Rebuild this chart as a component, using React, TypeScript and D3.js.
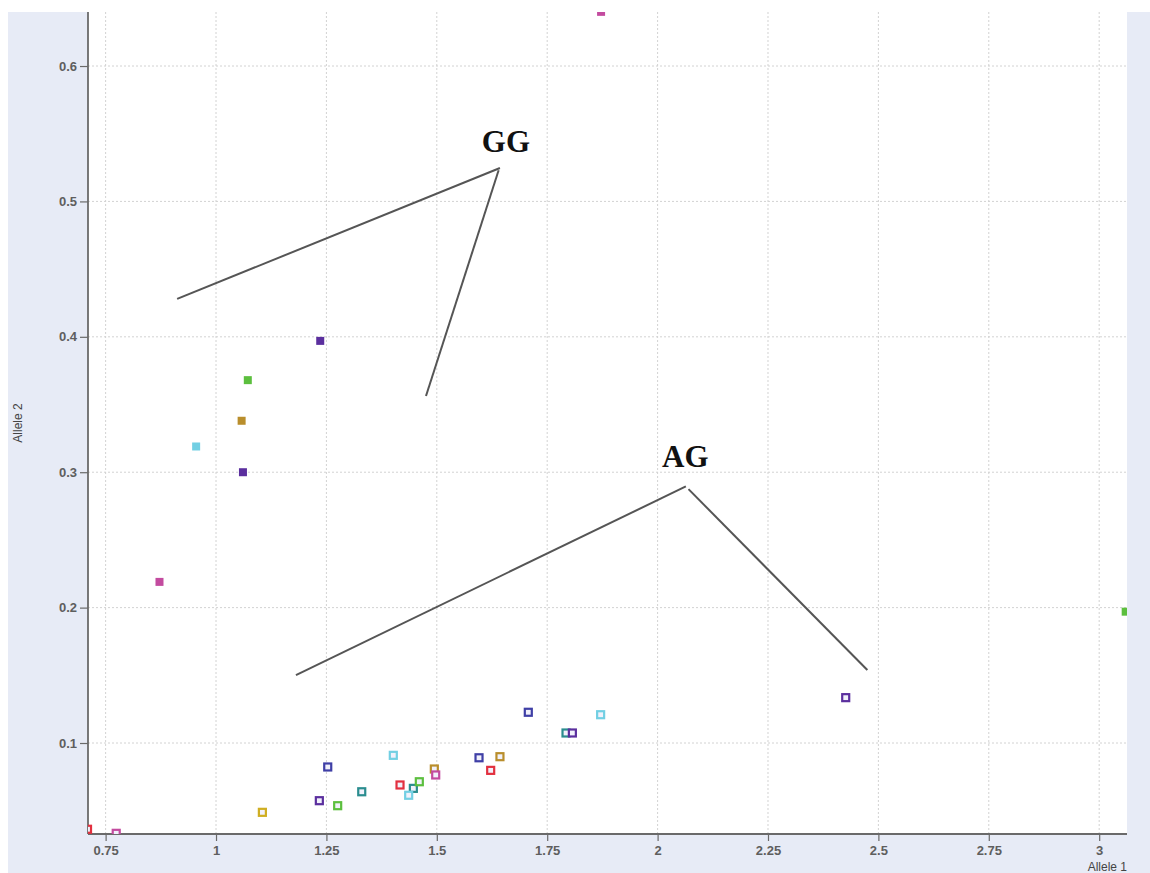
import React, { useEffect, useRef } from 'react';
import * as d3 from 'd3';

// allele 1, allele 2, sample row
type Call = [number, number, string];

const rows = ['A', 'B', 'C', 'D', 'E', 'F', 'G', 'H', 'I'];
const rowColors = ['#5b2f9e', '#3f3fa6', '#5cbf3e', '#b98e2c', '#72cfe3', '#c34b9f', '#e2303f', '#2b8d8f', '#cfae22'];

// GG cluster (filled markers)
const ggCalls: Call[] = [
  [1.236, 0.397, 'A'],
  [1.072, 0.368, 'C'],
  [1.058, 0.338, 'D'],
  [0.955, 0.319, 'E'],
  [1.061, 0.3, 'A'],
  [0.872, 0.219, 'F'],
  [1.872, 0.64, 'F'],
  [3.06, 0.197, 'C'],
];

// AG cluster (hollow markers)
const agCalls: Call[] = [
  [2.426, 0.1335, 'A'],
  [1.105, 0.0488, 'I'],
  [1.234, 0.0574, 'A'],
  [1.253, 0.0823, 'B'],
  [1.2755, 0.0537, 'C'],
  [1.33, 0.064, 'H'],
  [1.4015, 0.0909, 'E'],
  [1.4167, 0.069, 'G'],
  [1.4469, 0.0665, 'H'],
  [1.4363, 0.0614, 'E'],
  [1.4604, 0.0714, 'C'],
  [1.4944, 0.0808, 'D'],
  [1.4975, 0.0764, 'F'],
  [1.5956, 0.0891, 'B'],
  [1.622, 0.0798, 'G'],
  [1.643, 0.0899, 'D'],
  [1.7072, 0.1227, 'B'],
  [1.7926, 0.1074, 'H'],
  [1.807, 0.1074, 'A'],
  [1.871, 0.1209, 'E'],
  [0.709, 0.0363, 'G'],
  [0.774, 0.0333, 'F'],
];

const xTicks = [0.75, 1, 1.25, 1.5, 1.75, 2, 2.25, 2.5, 2.75, 3];
const yTicks = [0.1, 0.2, 0.3, 0.4, 0.5, 0.6];

// callouts drawn on the plot, in data units
const ggLabel = { text: 'GG', at: [1.602, 0.5365] };
const ggArms = [
  [[0.912, 0.428], [1.643, 0.5247]],
  [[1.64, 0.523], [1.4755, 0.3563]],
];
const agLabel = { text: 'AG', at: [2.01, 0.3035] };
const agArms = [
  [[1.181, 0.1502], [2.064, 0.2895]],
  [[2.07, 0.2875], [2.475, 0.1539]],
];

const W = 1150;
const H = 873;
const margin = { left: 88, right: 1127, top: 12, bottom: 834 };

const App: React.FC = () => {
  const ref = useRef<SVGSVGElement>(null);

  useEffect(() => {
    if (!ref.current) return;
    const svg = d3.select(ref.current);
    svg.selectAll('*').remove();

    const x = d3.scaleLinear().domain([0.7101, 3.063]).range([margin.left, margin.right]);
    const y = d3.scaleLinear().domain([0.0328, 0.6399]).range([margin.bottom, margin.top]);
    const color = d3.scaleOrdinal<string, string>().domain(rows).range(rowColors);

    svg.append('rect').attr('x', 8).attr('y', 12).attr('width', W - 8).attr('height', H - 12).attr('fill', '#e7ebf6');
    svg
      .append('rect')
      .attr('x', margin.left)
      .attr('y', margin.top)
      .attr('width', margin.right - margin.left)
      .attr('height', margin.bottom - margin.top)
      .attr('fill', '#ffffff');

    svg
      .append('clipPath')
      .attr('id', 'plot-clip')
      .append('rect')
      .attr('x', margin.left)
      .attr('y', margin.top)
      .attr('width', margin.right - margin.left)
      .attr('height', margin.bottom - margin.top);

    // grid
    const grid = svg.append('g').attr('stroke', '#d2d2d2').attr('stroke-width', 1).attr('stroke-dasharray', '2,2');
    grid
      .selectAll('line.vx')
      .data(xTicks)
      .enter()
      .append('line')
      .attr('x1', (d) => x(d))
      .attr('x2', (d) => x(d))
      .attr('y1', margin.top)
      .attr('y2', margin.bottom);
    grid
      .selectAll('line.hy')
      .data(yTicks)
      .enter()
      .append('line')
      .attr('x1', margin.left)
      .attr('x2', margin.right)
      .attr('y1', (d) => y(d))
      .attr('y2', (d) => y(d));

    // minor ticks
    const xMinor = d3.range(0.75, 3.06, 0.05).filter((v) => !xTicks.some((t) => Math.abs(t - v) < 1e-6));
    const yMinor = d3.range(0.04, 0.64, 0.02).filter((v) => !yTicks.some((t) => Math.abs(t - v) < 1e-6));

    const xAxisG = svg.append('g').attr('transform', `translate(0,${margin.bottom})`);
    xAxisG.call(d3.axisBottom(x).tickValues(xMinor).tickSize(4).tickFormat(() => ''));
    xAxisG.call(
      d3
        .axisBottom(x)
        .tickValues(xTicks)
        .tickSize(7)
        .tickPadding(5)
        .tickFormat((d) => d3.format('~g')(d as number))
    );

    const yAxisG = svg.append('g').attr('transform', `translate(${margin.left},0)`);
    yAxisG.call(d3.axisLeft(y).tickValues(yMinor).tickSize(4).tickFormat(() => ''));
    yAxisG.call(d3.axisLeft(y).tickValues(yTicks).tickSize(8).tickPadding(3).tickFormat(d3.format('.1f')));

    [xAxisG, yAxisG].forEach((g) => {
      g.selectAll('.domain').attr('stroke', '#6a6a6a').attr('stroke-width', 1.8);
      g.selectAll('.tick line').attr('stroke', '#6a6a6a').attr('stroke-width', 1.2);
      g.selectAll('.tick text')
        .attr('fill', '#5e5e5e')
        .attr('font-family', 'Liberation Sans, Arial, sans-serif')
        .attr('font-weight', 'bold')
        .attr('font-size', 13);
    });
    // axis lines stop at the plot edges, no outer ticks
    xAxisG.select('.domain').attr('d', `M${margin.left},0H${margin.right}`);
    yAxisG.select('.domain').attr('d', `M0,${margin.top}V${margin.bottom}`);

    // axis titles
    svg
      .append('text')
      .attr('x', margin.right)
      .attr('y', 871)
      .attr('text-anchor', 'end')
      .attr('font-family', 'Liberation Sans, Arial, sans-serif')
      .attr('font-size', 12)
      .attr('fill', '#444')
      .text('Allele 1');
    svg
      .append('text')
      .attr('transform', `translate(22,423) rotate(-90)`)
      .attr('text-anchor', 'middle')
      .attr('font-family', 'Liberation Sans, Arial, sans-serif')
      .attr('font-size', 12)
      .attr('fill', '#444')
      .text('Allele 2');

    // markers
    const pts = svg.append('g').attr('clip-path', 'url(#plot-clip)');
    pts
      .selectAll('rect.gg')
      .data(ggCalls)
      .enter()
      .append('rect')
      .attr('x', (d) => x(d[0]) - 4)
      .attr('y', (d) => y(d[1]) - 4)
      .attr('width', 8)
      .attr('height', 8)
      .attr('fill', (d) => color(d[2]));
    pts
      .selectAll('rect.ag')
      .data(agCalls)
      .enter()
      .append('rect')
      .attr('x', (d) => x(d[0]) - 3.5)
      .attr('y', (d) => y(d[1]) - 3.5)
      .attr('width', 7)
      .attr('height', 7)
      .attr('fill', '#f1f1fb')
      .attr('stroke', (d) => color(d[2]))
      .attr('stroke-width', 2.2);

    // callouts
    const callouts = svg.append('g');
    [...ggArms, ...agArms].forEach((arm) => {
      callouts
        .append('line')
        .attr('x1', x(arm[0][0]))
        .attr('y1', y(arm[0][1]))
        .attr('x2', x(arm[1][0]))
        .attr('y2', y(arm[1][1]))
        .attr('stroke', '#555')
        .attr('stroke-width', 2);
    });
    [ggLabel, agLabel].forEach((l) => {
      callouts
        .append('text')
        .attr('x', x(l.at[0]))
        .attr('y', y(l.at[1]))
        .attr('font-family', 'Liberation Serif, Times New Roman, serif')
        .attr('font-weight', 'bold')
        .attr('font-size', 31)
        .attr('fill', '#111')
        .text(l.text);
    });
  }, []);

  return <svg ref={ref} width={W} height={H} style={{ position: 'absolute', left: 0, top: 0 }} />;
};

export default App;
